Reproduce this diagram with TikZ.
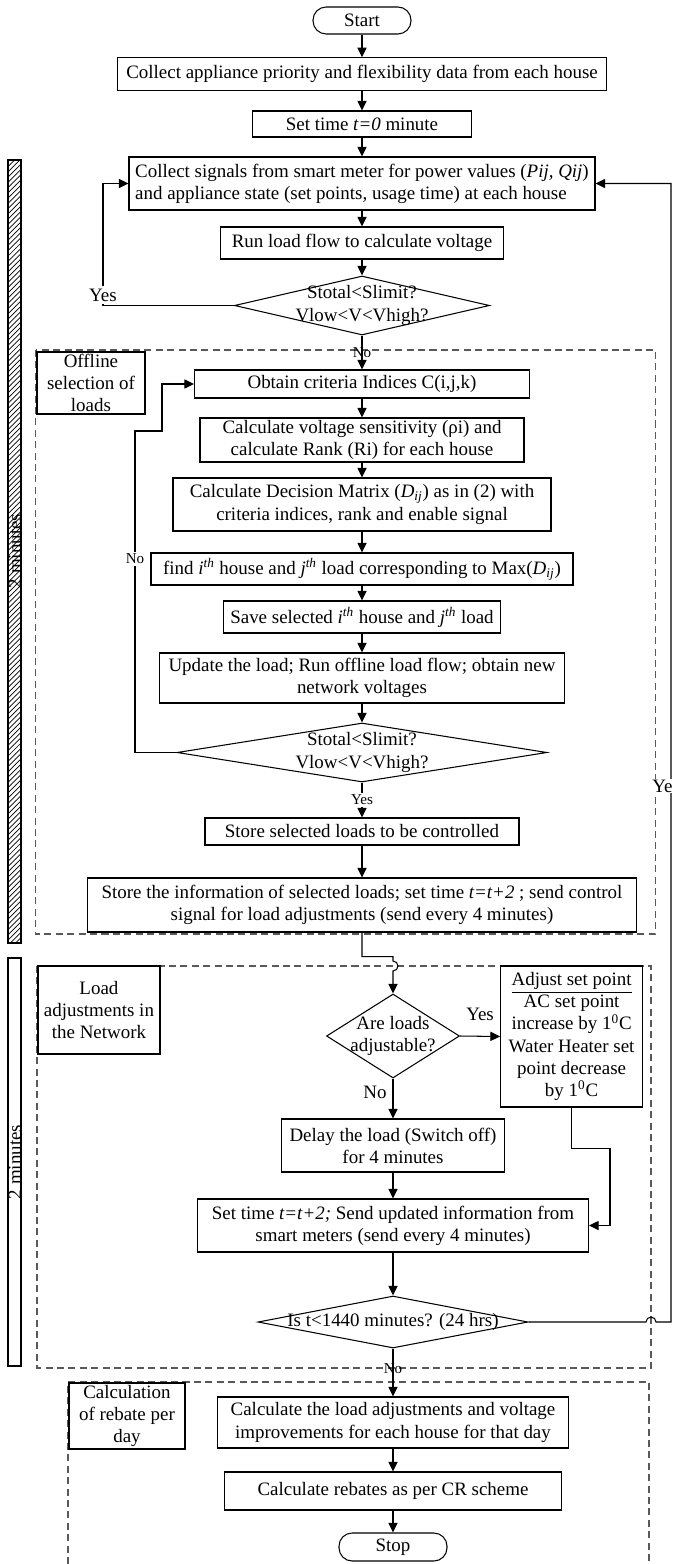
\documentclass[tikz,border=0pt]{standalone}
\usepackage{fontspec}
\setmainfont{Liberation Serif}
\usetikzlibrary{shapes.geometric, arrows.meta, patterns, positioning}

\begin{document}
\begin{tikzpicture}[x=0.57pt, y=-0.57pt,
    line width=0.6pt,
    font=\fontsize{10.8}{12.6}\selectfont,
    >={Triangle[length=5.5pt,width=5.2pt]},
    wh/.style 2 args={minimum width=#1*0.57pt, minimum height=#2*0.57pt},
    stepbox/.style={draw, rectangle, inner sep=0pt, align=center},
    terminal/.style={draw, rectangle, rounded corners=7.5pt, inner sep=0pt},
    decision/.style={draw, diamond, inner sep=0pt},
    phase/.style={draw, line width=1.1pt, inner sep=0pt, align=center},
    frame/.style={draw=black!65, dash pattern=on 4pt off 2.5pt},
    small/.style={font=\fontsize{8.6}{10}\selectfont}]

    \useasboundingbox (0,0) rectangle (675,1564);

    % Add the time bars and the dashed frames
        \draw[pattern=north east lines] (8,160) rectangle (21,943);
        \node[rotate=90] (bar1) at (15,551) {2 minutes};
        \draw (8,958) rectangle (21,1366);
        \node[rotate=90] (bar2) at (15,1162) {2 minutes};

        \draw[frame] (35.5,350) rectangle (655.5,934);
        \draw[frame] (37,966) rectangle (651,1368);
        \draw[frame] (68,1564) |- (649,1382) -- (649,1564);

    % Add the steps
        \node[terminal, wh={98}{27}] (start) at (362,20.5) {Start};
        \node[stepbox,
              wh={489}{33}] (appliance) at (362,74.3)
              {Collect appliance priority and flexibility data from each house};
        \node[stepbox,
              wh={219}{26}] (settime) at (362,124) {Set time \textit{t=0} minute};
        \node[stepbox,
              wh={466}{53},
              align=left] (signals) at (362,183.5)
              {Collect signals from smart meter for power values (\textit{Pij, Qij})\\
               and appliance state (set points, usage time) at each house};
        \node[stepbox,
              wh={283}{32}] (loadflow) at (362,243) {Run load flow to calculate voltage};
        \node[decision,
              wh={255}{59},
              label={[align=center]center:Stotal<Slimit?\\Vlow<V<Vhigh?}] (check) at (362,305.5) {};

        \node[phase,
              wh={108}{62},
              anchor=north west] (offline) at (36,351) {Offline\\selection of\\loads};
        \node[stepbox,
              wh={335}{28}] (criteria) at (362,384) {Obtain criteria Indices C(i,j,k)};
        \node[stepbox,
              wh={324}{44}] (sensitivity) at (362,440)
              {Calculate voltage sensitivity (ρi) and\\calculate Rank (Ri) for each house};
        \node[stepbox,
              wh={378}{53}] (matrix) at (362,504.5)
              {Calculate Decision Matrix (\textit{D}\textsubscript{\textit{ij}}) as in (2) with\\
               criteria indices, rank and enable signal};
        \node[stepbox,
              wh={422}{32}] (findmax) at (362,569)
              {find \textit{i}\textsuperscript{\textit{th}} house and \textit{j}\textsuperscript{\textit{th}} load corresponding to Max(\textit{D}\textsubscript{\textit{ij}})};
        \node[stepbox,
              wh={277}{32}] (save) at (362,617)
              {Save selected \textit{i}\textsuperscript{\textit{th}} house and \textit{j}\textsuperscript{\textit{th}} load};
        \node[stepbox,
              wh={405}{50}] (update) at (362,678)
              {Update the load; Run offline load flow; obtain new\\network voltages};
        \node[decision,
              wh={370}{59},
              label={[align=center]center:Stotal<Slimit?\\Vlow<V<Vhigh?}] (recheck) at (362,752.5) {};
        \node[stepbox,
              wh={314}{27}] (storesel) at (362,831.5) {Store selected loads to be controlled};
        \node[stepbox,
              wh={549}{54}] (storeinfo) at (362,905)
              {Store the information of selected loads; set time \textit{t=t+2} ; send control\\
               signal for load adjustments (send every 4 minutes)};

        \node[phase,
              wh={122}{88},
              anchor=north west] (network) at (37,965) {Load\\adjustments in\\the Network};
        \node[decision,
              wh={133}{84},
              label={[align=center]center:Are loads\\adjustable?}] (adjustable) at (393,1036) {};
        \node[stepbox,
              wh={142}{141}] (setpoint) at (571.6,1036.5)
              {\underline{Adjust set point}\\AC set point\\increase by 1\textsuperscript{0}C\\
               Water Heater set\\point decrease\\by 1\textsuperscript{0}C};
        \node[stepbox,
              wh={223}{53}] (delay) at (393,1145.5) {Delay the load (Switch off)\\for 4 minutes};
        \node[stepbox,
              wh={391}{53}] (nexttime) at (393,1225.5)
              {Set time \textit{t=t+2;} Send updated information from\\
               smart meters (send every 4 minutes)};
        \node[decision,
              wh={270}{52},
              label={center:Is t<1440 minutes? (24 hrs)}] (daycheck) at (393,1322) {};

        \node[phase,
              wh={116}{66},
              anchor=north west] (rebate) at (68,1382) {Calculation\\of rebate per\\day};
        \node[stepbox,
              wh={351}{51}] (improve) at (393,1422.5)
              {Calculate the load adjustments and voltage\\improvements for each house for that day};
        \node[stepbox,
              wh={337}{38}] (rebates) at (393,1491) {Calculate rebates as per CR scheme};
        \node[terminal, wh={108}{28}] (stop) at (393,1547) {Stop};

    % Add the connectors
        \draw[->] (start) -- (appliance);
        \draw[->] (appliance) -- (settime);
        \draw[->] (settime) -- (signals);
        \draw[->] (signals) -- (loadflow);
        \draw[->] (loadflow) -- (check);
        \draw[->] (check.west) -- ++(-131,0) node[fill=white, inner sep=1.5pt, yshift=6pt] {Yes}
                  |- (signals.west);
        \draw[->] (check.south) -- node[small] {No} (criteria.north);
        \draw[->] (criteria) -- (sensitivity);
        \draw[->] (sensitivity) -- (matrix);
        \draw[->] (matrix) -- (findmax);
        \draw[->] (findmax) -- (save);
        \draw[->] (save) -- (update);
        \draw[->] (update) -- (recheck);
        \draw[->] (recheck.west) -| (135,431) -- (162,431) |- (criteria.west);
        \node[small, fill=white, inner sep=1pt] (nolabel) at (135,559) {No};
        \draw[->] (recheck.south) -- node[small, fill=white, inner sep=1pt] {Yes} (storesel.north);
        \draw[->] (storesel) -- (storeinfo);

        \draw[->] (storeinfo.south) -- ++(0,24) -| (393,961) arc (-90:90:5) -- (adjustable.north);
        \draw[->] (adjustable.east) -- node[above=5pt] {Yes} (setpoint.west);
        \draw[->] (adjustable.south) -- node[left, pos=0.35] {No} (delay.north);
        \draw[->] (delay) -- (nexttime);
        \draw[->] (setpoint.south) -- ++(0,41) -| (610,1200) |- (nexttime.east);
        \draw[->] (nexttime) -- (daycheck);
        \draw[->] (daycheck.east) -- (646,1322) arc (180:360:5) -- (671,1322) |- (signals.east);
        \node[fill=white, anchor=east, inner sep=0.5pt] (yelabel) at (674,786) {Ye};
        \draw[->] (daycheck.south) -- node[small, pos=0.41] {No} (improve.north);
        \draw[->] (improve) -- (rebates);
        \draw[->] (rebates) -- (stop);
\end{tikzpicture}
\end{document}
